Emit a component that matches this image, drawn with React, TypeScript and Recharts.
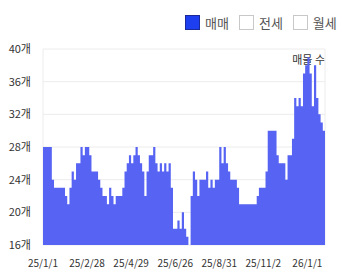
import React from "react"
import { AreaChart, Area, XAxis, YAxis, CartesianGrid } from "recharts"

const tickLabels = ["25/1/1", "25/2/28", "25/4/29", "25/6/26", "25/8/31", "25/11/2", "26/1/1"]
const tickIndex = [0, 20, 40, 60, 80, 100, 120]
const yTicks = [16, 20, 24, 28, 32, 36, 40]
const dealTypes = ["매매", "전세", "월세"]
const activeType = "매매"

// listing count per sample (매매)
const counts = [
  28, 28, 28, 28, 24, 23, 23, 23, 23, 23,
  22, 21, 23, 25, 24, 26, 26, 28, 27, 28,
  28, 27, 25, 25, 25, 24, 23, 22, 22, 21,
  23, 22, 21, 22, 22, 22, 23, 25, 26, 27,
  26, 27, 28, 27, 26, 25, 22, 25, 27, 27,
  28, 26, 25, 26, 25, 26, 25, 26, 23, 18,
  18, 19, 18, 20, 18, 17, 16, 22, 25, 24,
  22, 24, 24, 24, 25, 23, 24, 23, 24, 24,
  28, 26, 28, 26, 25, 24, 24, 24, 23, 21,
  21, 21, 21, 21, 21, 21, 21, 22, 23, 23,
  23, 25, 30, 30, 30, 30, 27, 26, 26, 26,
  24, 27, 27, 29, 34, 33, 34, 33, 37, 38,
  39, 37, 33, 38, 34, 32, 31, 30, 30,
]

const data = counts.map((v, i) => ({ i, v }))

const font = "'Noto Sans CJK KR', 'Noto Sans', sans-serif"

export default function App() {
  return (
    <div style={{ position: "fixed", left: 0, top: 0, width: 346, height: 278, background: "#fff", fontFamily: font }}>
      <div
        style={{
          position: "absolute",
          left: 185,
          top: 13,
          width: 161,
          display: "flex",
          alignItems: "center",
          fontSize: 13,
          color: "#555",
          whiteSpace: "nowrap",
        }}
      >
        {dealTypes.map((t, k) => (
          <div key={t} style={{ display: "flex", alignItems: "center", marginRight: k < dealTypes.length - 1 ? 10 : 0, flexShrink: 0 }}>
            <span
              style={{
                width: 15,
                height: 15,
                flexShrink: 0,
                boxSizing: "border-box",
                border: t === activeType ? "1px solid #1a2a99" : "1px solid #c8c8c8",
                background: t === activeType ? "#1d3ff0" : "#fff",
                marginRight: 5,
              }}
            />
            <span>{t}</span>
          </div>
        ))}
      </div>
      <div style={{ position: "absolute", right: 21, top: 51, fontSize: 11, color: "#333" }}>매물 수</div>
      <AreaChart width={346} height={278} data={data} margin={{ top: 49, right: 21, bottom: 0, left: 0 }}>
        <CartesianGrid
          stroke="#ececec"
          verticalCoordinatesGenerator={({ offset }: any) => [offset.left, offset.left + offset.width]}
        />
        <XAxis
          type="number"
          dataKey="i"
          domain={[0, counts.length - 1]}
          ticks={tickIndex}
          tickFormatter={(v: number) => tickLabels[tickIndex.indexOf(v)]}
          axisLine={false}
          tickLine={false}
          tickMargin={9}
          height={33}
          tick={{ fontSize: 10, fill: "#333", fontFamily: font }}
          interval={0}
        />
        <YAxis
          domain={[16, 40]}
          ticks={yTicks}
          tickFormatter={(v: number) => `${v}개`}
          axisLine={false}
          tickLine={false}
          tickMargin={6}
          width={43}
          tick={{ fontSize: 11, fill: "#333", fontFamily: font }}
          interval={0}
        />
        <Area
          type="stepAfter"
          dataKey="v"
          name="매물 수"
          stroke="none"
          fill="#5663f3"
          fillOpacity={1}
          isAnimationActive={false}
        />
      </AreaChart>
    </div>
  )
}
